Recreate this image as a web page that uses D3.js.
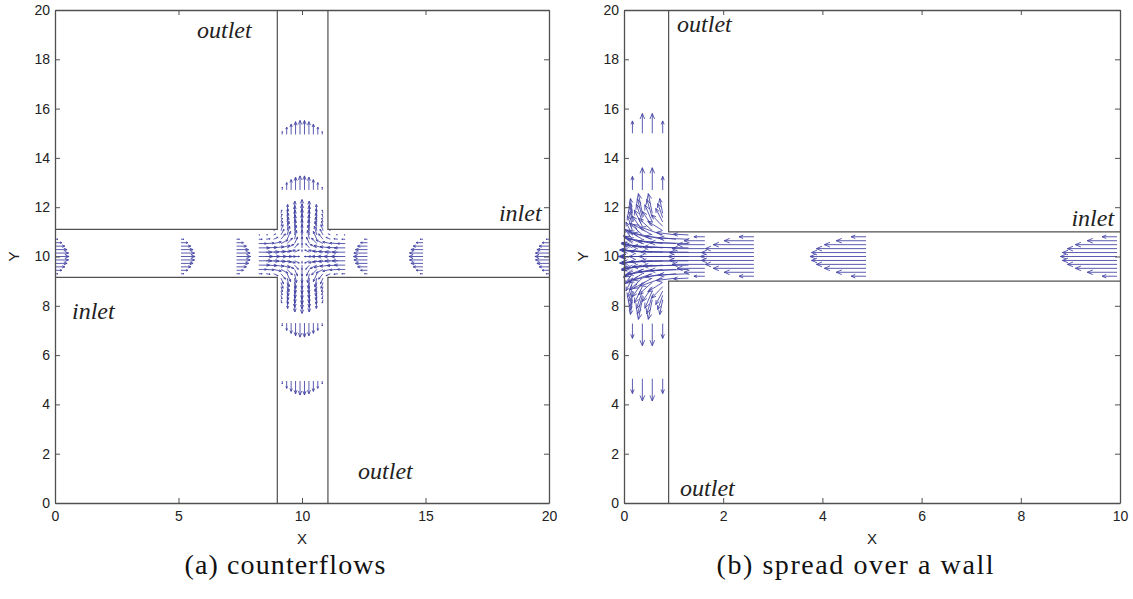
<!DOCTYPE html>
<html>
<head>
<meta charset="utf-8">
<script src="https://cdn.jsdelivr.net/npm/d3@7"></script>
<style>
  body { margin: 0; background: #fff; }
  svg { display: block; }
</style>
</head>
<body>
<svg id="chart" width="1133" height="599"></svg>
<script>
// ---- data: panel (a) counterflows ----
const xTicksA = [0, 5, 10, 15, 20];
const yTicks = [0, 2, 4, 6, 8, 10, 12, 14, 16, 18, 20];
const wallsA = [
  [[0, 11.1], [9, 11.1], [9, 20]],
  [[11.05, 20], [11.05, 11.1], [20, 11.1]],
  [[0, 9.15], [9, 9.15], [9, 0]],
  [[11.05, 0], [11.05, 9.15], [20, 9.15]]
];
// inlet profiles (horizontal arrows)
const profColsA = [0, 5.1, 7.35, 12.65, 14.9, 20];
const profDirA = [1, 1, 1, -1, -1, -1];
const profRowsA = [9.3, 9.44, 9.58, 9.72, 9.86, 10.0, 10.14, 10.28, 10.42, 10.56, 10.7];
const profSpeedA = [0.12, 0.28, 0.4, 0.49, 0.55, 0.57, 0.55, 0.49, 0.4, 0.28, 0.12];
// outlet profiles (vertical arrows)
const outRowsA = [4.95, 7.3, 12.7, 14.95];
const outDirA = [-1, -1, 1, 1];
const outColsA = [9.2, 9.38, 9.56, 9.74, 9.92, 10.1, 10.28, 10.46, 10.64, 10.82];
const outSpeedA = [0.12, 0.3, 0.42, 0.52, 0.57, 0.57, 0.52, 0.42, 0.3, 0.12];
// crossing region, velocities in 1/100 units
const jColsA = [8.25, 8.55, 8.85, 9.15, 9.4, 9.7, 10.0, 10.3, 10.6, 10.85, 11.15, 11.45, 11.75];
const jRowsA = [8.25, 8.425, 8.6, 8.775, 8.95, 9.125, 9.3, 9.475, 9.65, 9.825, 10.0,
  10.175, 10.35, 10.525, 10.7, 10.875, 11.05, 11.225, 11.4, 11.575, 11.75];
const jUA = [
  [0, 0, 0, 3, 2, 1, 0, -1, -2, -3, 0, 0, 0],
  [0, 0, 0, 4, 3, 1, 0, -1, -3, -4, 0, 0, 0],
  [0, 0, 0, 5, 4, 2, 0, -2, -4, -5, 0, 0, 0],
  [0, 0, 0, 6, 5, 3, 0, -3, -5, -6, 0, 0, 0],
  [0, 0, 0, 8, 7, 4, 0, -4, -7, -8, 0, 0, 0],
  [0, 0, 0, 10, 8, 5, 0, -5, -8, -10, 0, 0, 0],
  [14, 16, 18, 18, 14, 8, 0, -8, -14, -18, -18, -16, -14],
  [32, 32, 31, 28, 21, 12, 0, -12, -21, -28, -31, -32, -32],
  [44, 44, 42, 36, 27, 15, 0, -15, -27, -36, -42, -44, -44],
  [53, 52, 49, 42, 33, 19, 0, -19, -33, -42, -49, -52, -53],
  [57, 56, 52, 45, 35, 20, 0, -20, -35, -45, -52, -56, -57],
  [53, 52, 49, 42, 33, 19, 0, -19, -33, -42, -49, -52, -53],
  [44, 44, 42, 36, 27, 15, 0, -15, -27, -36, -42, -44, -44],
  [32, 32, 31, 28, 21, 12, 0, -12, -21, -28, -31, -32, -32],
  [14, 16, 18, 18, 14, 8, 0, -8, -14, -18, -18, -16, -14],
  [5, 6, 8, 12, 10, 6, 0, -6, -10, -12, -8, -6, -5],
  [0, 0, 4, 8, 7, 4, 0, -4, -7, -8, -4, 0, 0],
  [0, 0, 0, 6, 5, 3, 0, -3, -5, -6, 0, 0, 0],
  [0, 0, 0, 5, 4, 2, 0, -2, -4, -5, 0, 0, 0],
  [0, 0, 0, 4, 3, 1, 0, -1, -3, -4, 0, 0, 0],
  [0, 0, 0, 3, 2, 1, 0, -1, -2, -3, 0, 0, 0]
];
const jVA = [
  [0, 0, 0, -14, -36, -50, -56, -50, -36, -14, 0, 0, 0],
  [0, 0, 0, -15, -36, -49, -55, -49, -36, -15, 0, 0, 0],
  [0, 0, 0, -16, -36, -48, -54, -48, -36, -16, 0, 0, 0],
  [0, 0, 0, -20, -37, -46, -50, -46, -37, -20, 0, 0, 0],
  [0, 0, 0, -24, -38, -44, -46, -44, -38, -24, 0, 0, 0],
  [0, 0, 0, -23, -36, -42, -44, -42, -36, -23, 0, 0, 0],
  [0, -2, -8, -22, -32, -36, -37, -36, -32, -22, -8, -2, 0],
  [0, -2, -7, -15, -22, -26, -27, -26, -22, -15, -7, -2, 0],
  [0, -2, -5, -10, -14, -17, -18, -17, -14, -10, -5, -2, 0],
  [0, -1, -3, -5, -8, -9, -10, -9, -8, -5, -3, -1, 0],
  [0, 0, 0, 0, 0, 0, 0, 0, 0, 0, 0, 0, 0],
  [0, 1, 3, 5, 8, 9, 10, 9, 8, 5, 3, 1, 0],
  [0, 2, 5, 10, 14, 17, 18, 17, 14, 10, 5, 2, 0],
  [0, 2, 7, 15, 22, 26, 27, 26, 22, 15, 7, 2, 0],
  [0, 2, 8, 22, 32, 36, 37, 36, 32, 22, 8, 2, 0],
  [0, 1, 4, 23, 35, 40, 42, 40, 35, 23, 4, 1, 0],
  [0, 0, 2, 24, 38, 44, 46, 44, 38, 24, 2, 0, 0],
  [0, 0, 0, 20, 37, 46, 50, 46, 37, 20, 0, 0, 0],
  [0, 0, 0, 16, 36, 48, 54, 48, 36, 16, 0, 0, 0],
  [0, 0, 0, 15, 36, 49, 55, 49, 36, 15, 0, 0, 0],
  [0, 0, 0, 14, 36, 50, 56, 50, 36, 14, 0, 0, 0]
];

// ---- data: panel (b) spread over a wall ----
const xTicksB = [0, 2, 4, 6, 8, 10];
const wallsB = [
  [[0.9, 20], [0.9, 11], [10, 11]],
  [[0.9, 0], [0.9, 9], [10, 9]]
];
const profColsB = [1.63, 2.62, 4.88, 9.94];
const profRowsB = [9.2, 9.36, 9.52, 9.68, 9.84, 10.0, 10.16, 10.32, 10.48, 10.64, 10.8];
const profSpeedB = [
  [0.22, 0.42, 0.56, 0.66, 0.72, 0.74, 0.72, 0.66, 0.56, 0.42, 0.22],
  [0.3, 0.6, 0.82, 0.98, 1.06, 1.08, 1.06, 0.98, 0.82, 0.6, 0.3],
  [0.3, 0.6, 0.84, 1.0, 1.1, 1.13, 1.1, 1.0, 0.84, 0.6, 0.3],
  [0.3, 0.6, 0.84, 1.0, 1.1, 1.14, 1.1, 1.0, 0.84, 0.6, 0.3]
];
const outColsB = [0.17, 0.37, 0.57, 0.78];
const outRowsB = [5.04, 7.28, 12.7, 15.0];
const outSpeedB = [
  [-0.6, -0.9, -0.9, -0.6],
  [-0.6, -0.9, -0.9, -0.6],
  [0.55, 0.9, 0.9, 0.55],
  [0.5, 0.8, 0.8, 0.5]
];
const jColsB = [0.17, 0.37, 0.57, 0.78, 1.05, 1.3];
const jRowsB = jRowsA;
const jUB = [
  [-4, -8, -8, -6, 0, 0],
  [-5, -10, -11, -10, 0, 0],
  [-6, -12, -15, -14, 0, 0],
  [-8, -16, -20, -22, 0, 0],
  [-10, -20, -28, -30, 0, 0],
  [-13, -26, -38, -45, -40, -30],
  [-16, -32, -48, -60, -62, -60],
  [-18, -37, -55, -70, -76, -78],
  [-20, -42, -62, -78, -88, -92],
  [-21, -44, -66, -82, -92, -96],
  [-22, -45, -68, -85, -95, -100],
  [-21, -44, -66, -82, -92, -96],
  [-20, -42, -62, -78, -88, -92],
  [-18, -37, -55, -70, -76, -78],
  [-16, -32, -48, -60, -62, -60],
  [-13, -26, -38, -45, -40, -30],
  [-10, -20, -28, -30, 0, 0],
  [-8, -16, -20, -22, 0, 0],
  [-6, -12, -15, -14, 0, 0],
  [-5, -10, -11, -10, 0, 0],
  [-4, -8, -8, -6, 0, 0]
];
const jVB = [
  [-60, -80, -80, -60, 0, 0],
  [-61, -76, -75, -58, 0, 0],
  [-62, -72, -70, -55, 0, 0],
  [-61, -66, -60, -46, 0, 0],
  [-60, -58, -50, -38, 0, 0],
  [-52, -48, -42, -32, -10, -3],
  [-42, -38, -32, -25, -12, -5],
  [-32, -29, -24, -18, -9, -4],
  [-22, -20, -16, -12, -6, -3],
  [-12, -11, -9, -6, -3, -1],
  [0, 0, 0, 0, 0, 0],
  [12, 11, 9, 6, 3, 1],
  [22, 20, 16, 12, 6, 3],
  [32, 29, 24, 18, 9, 4],
  [42, 38, 32, 25, 12, 5],
  [52, 48, 42, 32, 10, 3],
  [60, 58, 50, 38, 0, 0],
  [61, 66, 60, 46, 0, 0],
  [62, 72, 70, 55, 0, 0],
  [61, 76, 75, 58, 0, 0],
  [60, 80, 80, 60, 0, 0]
];

// ---- build arrow lists ----
const arrowsA = [];
profColsA.forEach((cx, i) => profRowsA.forEach((ry, j) =>
  arrowsA.push({ x: cx, y: ry, u: profDirA[i] * profSpeedA[j], v: 0 })));
outRowsA.forEach((ry, i) => outColsA.forEach((cx, j) =>
  arrowsA.push({ x: cx, y: ry, u: 0, v: outDirA[i] * outSpeedA[j] })));
jRowsA.forEach((ry, i) => jColsA.forEach((cx, j) =>
  arrowsA.push({ x: cx, y: ry, u: jUA[i][j] / 100, v: jVA[i][j] / 100 })));

const arrowsB = [];
profColsB.forEach((cx, i) => profRowsB.forEach((ry, j) =>
  arrowsB.push({ x: cx, y: ry, u: -profSpeedB[i][j], v: 0 })));
outRowsB.forEach((ry, i) => outColsB.forEach((cx, j) =>
  arrowsB.push({ x: cx, y: ry, u: 0, v: outSpeedB[i][j] })));
jRowsB.forEach((ry, i) => jColsB.forEach((cx, j) =>
  arrowsB.push({ x: cx, y: ry, u: jUB[i][j] / 100, v: jVB[i][j] / 100 })));

const svg = d3.select("#chart");
const axisColor = "#505050";
const arrowColor = "#3f3fa2";
const sans = "'Liberation Sans', Arial, sans-serif";
const serif = "'Liberation Serif', 'Times New Roman', serif";

function arrowPath(x, y, a) {
  const x0 = x(a.x), y0 = y(a.y), x1 = x(a.x + a.u), y1 = y(a.y + a.v);
  const dx = x1 - x0, dy = y1 - y0, len = Math.hypot(dx, dy);
  if (len < 0.8) return "";
  const h = Math.min(len * 0.3, 6), ang = Math.atan2(dy, dx), s = 0.4;
  const hx1 = x1 - h * Math.cos(ang - s), hy1 = y1 - h * Math.sin(ang - s);
  const hx2 = x1 - h * Math.cos(ang + s), hy2 = y1 - h * Math.sin(ang + s);
  return `M${x0},${y0}L${x1},${y1}M${hx1},${hy1}L${x1},${y1}L${hx2},${hy2}`;
}

function drawPanel(cfg) {
  const x = d3.scaleLinear().domain(cfg.xDomain).range([cfg.left, cfg.right]);
  const y = d3.scaleLinear().domain([0, 20]).range([cfg.bottom, cfg.top]);
  const g = svg.append("g");

  // arrows
  g.append("g")
    .attr("fill", "none")
    .attr("stroke", arrowColor)
    .attr("stroke-width", 1)
    .attr("stroke-opacity", 0.85)
    .selectAll("path")
    .data(cfg.arrows)
    .join("path")
    .attr("d", d => arrowPath(x, y, d));

  // channel walls
  const line = d3.line().x(d => x(d[0])).y(d => y(d[1]));
  g.append("g")
    .attr("fill", "none")
    .attr("stroke", axisColor)
    .attr("stroke-width", 1.2)
    .selectAll("path")
    .data(cfg.walls)
    .join("path")
    .attr("d", line);

  // axes with inward ticks on all sides
  const styleAxis = sel => {
    sel.select(".domain").attr("stroke", axisColor).attr("stroke-width", 1.3);
    sel.selectAll(".tick line").attr("stroke", axisColor);
    sel.selectAll(".tick text").attr("fill", "#222")
      .style("font-family", sans).style("font-size", "14px");
  };
  g.append("g").attr("transform", `translate(0,${cfg.bottom})`)
    .call(d3.axisBottom(x).tickValues(cfg.xTicks).tickSizeInner(-5).tickSizeOuter(0).tickPadding(8))
    .call(styleAxis);
  g.append("g").attr("transform", `translate(0,${cfg.top})`)
    .call(d3.axisTop(x).tickValues(cfg.xTicks).tickSizeInner(-5).tickSizeOuter(0).tickFormat(""))
    .call(styleAxis);
  g.append("g").attr("transform", `translate(${cfg.left},0)`)
    .call(d3.axisLeft(y).tickValues(yTicks).tickSizeInner(-5).tickSizeOuter(0).tickPadding(5))
    .call(styleAxis);
  g.append("g").attr("transform", `translate(${cfg.right},0)`)
    .call(d3.axisRight(y).tickValues(yTicks).tickSizeInner(-5).tickSizeOuter(0).tickFormat(""))
    .call(styleAxis);

  // axis titles
  g.append("text")
    .attr("x", (cfg.left + cfg.right) / 2).attr("y", 544)
    .attr("text-anchor", "middle")
    .style("font-family", sans).style("font-size", "15px")
    .attr("fill", "#222").text("X");
  g.append("text")
    .attr("transform", `translate(${cfg.left - 36},${y(10)}) rotate(-90)`)
    .attr("text-anchor", "middle")
    .style("font-family", sans).style("font-size", "15px")
    .attr("fill", "#222").text("Y");

  // inlet / outlet labels
  g.append("g")
    .selectAll("text")
    .data(cfg.labels)
    .join("text")
    .attr("x", d => x(d.x)).attr("y", d => y(d.y))
    .attr("text-anchor", d => d.anchor || "start")
    .style("font-family", serif)
    .style("font-style", "italic").style("font-size", "24px")
    .attr("fill", "#222")
    .text(d => d.t);

  // caption
  svg.append("text")
    .attr("x", cfg.captionX).attr("y", 574)
    .attr("text-anchor", "middle")
    .attr("textLength", cfg.captionW).attr("lengthAdjust", "spacing")
    .style("font-family", serif)
    .style("font-size", "28px")
    .attr("fill", "#111")
    .text(cfg.caption);
}

drawPanel({
  left: 55, right: 549, top: 10, bottom: 503,
  xDomain: [0, 20], xTicks: xTicksA,
  walls: wallsA, arrows: arrowsA,
  labels: [
    { t: "outlet", x: 5.75, y: 18.86 },
    { t: "inlet", x: 19.7, y: 11.42, anchor: "end" },
    { t: "inlet", x: 0.69, y: 7.46 },
    { t: "outlet", x: 12.27, y: 0.97 }
  ],
  caption: "(a) counterflows", captionX: 285, captionW: 201
});

drawPanel({
  left: 624, right: 1120, top: 10, bottom: 503,
  xDomain: [0, 10], xTicks: xTicksB,
  walls: wallsB, arrows: arrowsB,
  labels: [
    { t: "outlet", x: 1.07, y: 19.1 },
    { t: "inlet", x: 9.88, y: 11.25, anchor: "end" },
    { t: "outlet", x: 1.13, y: 0.3 }
  ],
  caption: "(b) spread over a wall", captionX: 855, captionW: 277
});
</script>
</body>
</html>
